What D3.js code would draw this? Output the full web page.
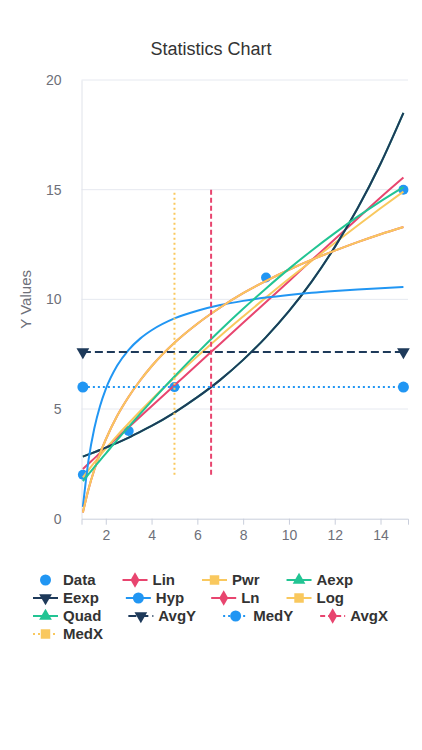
<!DOCTYPE html>
<html>
<head>
<meta charset="utf-8">
<script src="https://cdn.jsdelivr.net/npm/d3@7/dist/d3.min.js"></script>
<style>
  body { margin: 0; background: #fff; }
  svg { display: block; font-family: "Liberation Sans", Arial, sans-serif; }
</style>
</head>
<body>
<div id="chart"></div>
<script>
//tick labels
const xTicks = [2, 4, 6, 8, 10, 12, 14];
const yTicks = [0, 5, 10, 15, 20];

//raw data points
const dataX = [1, 3, 5, 9, 15];
const dataY = [2, 4, 6, 11, 15];

const fitX  = [1, 1.25, 1.5, 1.75, 2, 2.5, 3, 3.5, 4, 5, 6, 7, 8, 9, 10, 11, 12, 13, 14, 15];
const linY  = [2.27, 2.51, 2.75, 2.99, 3.22, 3.70, 4.17, 4.65, 5.13, 6.08, 7.03, 7.98, 8.93, 9.88, 10.83, 11.79, 12.74, 13.69, 14.64, 15.55];
const pwrY  = [1.88, 2.23, 2.56, 2.88, 3.19, 3.79, 4.35, 4.90, 5.43, 6.44, 7.40, 8.33, 9.22, 10.09, 10.94, 11.76, 12.57, 13.37, 14.15, 14.91];
const aexpY = [2.83, 2.93, 3.03, 3.13, 3.24, 3.46, 3.70, 3.96, 4.23, 4.84, 5.54, 6.33, 7.24, 8.28, 9.46, 10.82, 12.38, 14.15, 16.18, 18.50];
const eexpY = [2.83, 2.93, 3.03, 3.13, 3.24, 3.46, 3.70, 3.96, 4.23, 4.84, 5.54, 6.33, 7.24, 8.28, 9.46, 10.82, 12.38, 14.15, 16.18, 18.50];
const hypY  = [0.54, 2.69, 4.12, 5.14, 5.91, 6.98, 7.70, 8.21, 8.59, 9.13, 9.48, 9.74, 9.93, 10.08, 10.20, 10.30, 10.38, 10.45, 10.51, 10.56];
const lnY   = [0.28, 1.36, 2.23, 2.97, 3.61, 4.69, 5.56, 6.30, 6.95, 8.02, 8.89, 9.63, 10.28, 10.84, 11.35, 11.81, 12.22, 12.61, 12.97, 13.30];
const logY  = [0.28, 1.36, 2.23, 2.97, 3.61, 4.69, 5.56, 6.30, 6.95, 8.02, 8.89, 9.63, 10.28, 10.84, 11.35, 11.81, 12.22, 12.61, 12.97, 13.30];
const quadY = [1.71, 2.03, 2.35, 2.66, 2.97, 3.59, 4.19, 4.78, 5.36, 6.48, 7.56, 8.59, 9.57, 10.50, 11.39, 12.23, 13.02, 13.77, 14.47, 15.12];

//summary statistics
const avgY = 7.6, medY = 6, avgX = 6.6, medX = 5;

//series names (legend order)
const names = ['Data', 'Lin', 'Pwr', 'Aexp', 'Eexp', 'Hyp', 'Ln', 'Log', 'Quad', 'AvgY', 'MedY', 'AvgX', 'MedX'];

const palette = ['#2196f3', '#e8456f', '#f9c85e', '#22c493', '#1e3a5a'];
const symbols = ['circle', 'diamond', 'rect', 'triangle', 'triangleDown'];

const W = 422, H = 750;
const svg = d3.select('#chart').append('svg').attr('width', W).attr('height', H);

const x = d3.scaleLinear().domain([0.94, 15.2]).range([81.5, 408]);
const y = d3.scaleLinear().domain([0, 20]).range([518.7, 80]);

//title
svg.append('text')
    .attr('x', 211).attr('y', 55)
    .attr('text-anchor', 'middle')
    .attr('font-size', 18)
    .attr('fill', '#333')
    .text('Statistics Chart');

//grid lines
svg.append('g').selectAll('line')
    .data(yTicks.filter(d => d > 0))
  .enter().append('line')
    .attr('x1', x.range()[0]).attr('x2', x.range()[1])
    .attr('y1', d => y(d)).attr('y2', d => y(d))
    .attr('stroke', '#e6e9f0').attr('stroke-width', 1);

//y axis
const yAxis = svg.append('g')
    .attr('transform', `translate(${x.range()[0]},0)`)
    .call(d3.axisLeft(y).tickValues(yTicks).tickSize(0).tickPadding(20));
yAxis.select('.domain').attr('stroke', '#e0e3ea');
yAxis.selectAll('text').attr('font-size', 14).attr('fill', '#6e7079').attr('font-family', 'inherit');

//x axis
const xAxis = svg.append('g')
    .attr('transform', `translate(0,${y(0)})`)
    .call(d3.axisBottom(x).tickValues(xTicks).tickSize(6).tickPadding(5).tickFormat(d3.format('d')));
xAxis.select('.domain').attr('stroke', '#c9cedb');
xAxis.selectAll('.tick line').attr('stroke', '#c9cedb');
xAxis.selectAll('text').attr('font-size', 14).attr('fill', '#6e7079').attr('font-family', 'inherit');

//y axis title
svg.append('text')
    .attr('transform', `translate(31,${y(10)}) rotate(-90)`)
    .attr('text-anchor', 'middle')
    .attr('font-size', 15)
    .attr('fill', '#6e7079')
    .text('Y Values');

//symbol helper
function symbolPath(kind, size) {
    const map = {
        circle: d3.symbolCircle, diamond: d3.symbolDiamond, rect: d3.symbolSquare,
        triangle: d3.symbolTriangle, triangleDown: d3.symbolTriangle
    };
    return d3.symbol().type(map[kind]).size(size)();
}

const plot = svg.append('g');

//data points
plot.selectAll('.pt')
    .data(dataX.map((d, i) => [d, dataY[i]]))
  .enter().append('circle')
    .attr('cx', d => x(d[0])).attr('cy', d => y(d[1]))
    .attr('r', 5)
    .attr('fill', palette[0]);

//fitted curves
const curves = [linY, pwrY, aexpY, eexpY, hypY, lnY, logY, quadY];
const line = d3.line().x(d => x(d[0])).y(d => y(d[1])).curve(d3.curveMonotoneX);
curves.forEach(function(vals, i) {
    plot.append('path')
        .attr('d', line(fitX.map((d, j) => [d, vals[j]])))
        .attr('fill', 'none')
        .attr('stroke', palette[(i + 1) % 5])
        .attr('stroke-width', 2);
});

//average / median lines
const xMin = d3.min(dataX), xMax = d3.max(dataX);
const yMin = d3.min(dataY), yMax = d3.max(dataY);

plot.append('line')
    .attr('x1', x(xMin)).attr('x2', x(xMax)).attr('y1', y(avgY)).attr('y2', y(avgY))
    .attr('stroke', palette[4]).attr('stroke-width', 2).attr('stroke-dasharray', '8,4');
[xMin, xMax].forEach(v => plot.append('path')
    .attr('d', symbolPath('triangleDown', 70))
    .attr('transform', `translate(${x(v)},${y(avgY)}) rotate(180)`)
    .attr('fill', palette[4]));

plot.append('line')
    .attr('x1', x(xMin)).attr('x2', x(xMax)).attr('y1', y(medY)).attr('y2', y(medY))
    .attr('stroke', palette[0]).attr('stroke-width', 2).attr('stroke-dasharray', '2,3');
[xMin, xMax].forEach(v => plot.append('circle')
    .attr('cx', x(v)).attr('cy', y(medY)).attr('r', 5.5)
    .attr('fill', palette[0]));

plot.append('line')
    .attr('x1', x(avgX)).attr('x2', x(avgX)).attr('y1', y(yMin)).attr('y2', y(yMax))
    .attr('stroke', palette[1]).attr('stroke-width', 2).attr('stroke-dasharray', '5,3');

plot.append('line')
    .attr('x1', x(medX)).attr('x2', x(medX)).attr('y1', y(yMin)).attr('y2', y(yMax))
    .attr('stroke', palette[2]).attr('stroke-width', 2).attr('stroke-dasharray', '2,3');

//legend (flowing rows)
const dashes = { AvgY: '8,4', MedY: '2,3', AvgX: '5,3', MedX: '2,3' };
const legend = svg.append('g').attr('font-size', 15).attr('font-weight', 'bold').attr('fill', '#333');
let lx = 33, ly = 580;
const iconW = 25, rowH = 18, maxX = 400;
names.forEach(function(name, i) {
    const color = palette[i % 5], sym = symbols[i % 5];
    const g = legend.append('g');
    const txt = g.append('text').attr('dy', '0.35em').text(name);
    const tw = txt.node().getComputedTextLength();
    if (lx + iconW + 5 + tw > maxX) { lx = 33; ly += rowH; }
    g.attr('transform', `translate(${lx},${ly})`);
    txt.attr('x', iconW + 5);
    if (name !== 'Data') {
        g.append('line').attr('x1', 0).attr('x2', iconW).attr('y1', 0).attr('y2', 0)
            .attr('stroke', color).attr('stroke-width', 2)
            .attr('stroke-dasharray', dashes[name] || null);
    }
    let size = sym === 'circle' ? 95 : sym === 'rect' ? 90 : 70;
    g.append('path')
        .attr('d', symbolPath(sym, size))
        .attr('transform', `translate(${iconW / 2},0)` + (sym === 'triangleDown' ? ' rotate(180)' : ''))
        .attr('fill', color);
    lx += iconW + 5 + tw + 27;
});
</script>
</body>
</html>
